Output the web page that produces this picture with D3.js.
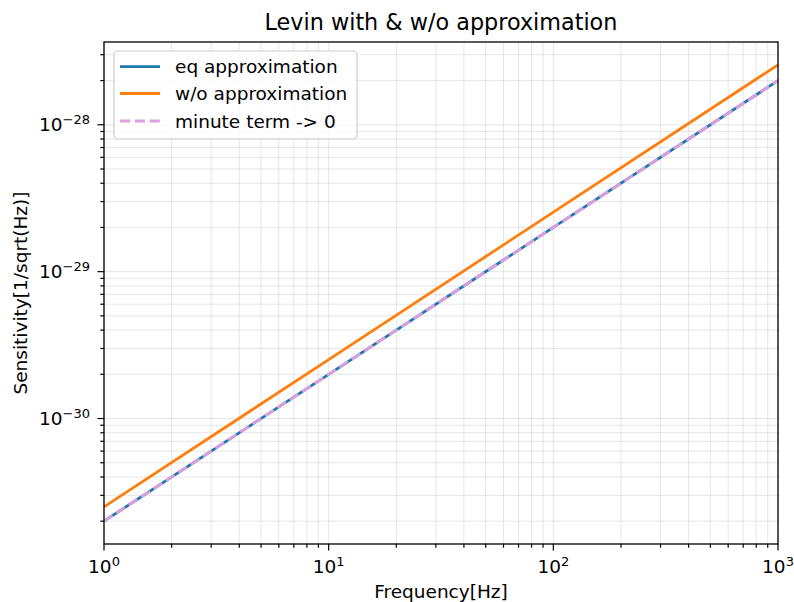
<!DOCTYPE html>
<html><head><meta charset="utf-8">
<script src="https://cdn.jsdelivr.net/npm/d3@7"></script>
<style>body{margin:0;background:#fff}svg{display:block}text{font-family:"DejaVu Sans",sans-serif}</style>
</head><body><div id="c"></div>
<script>
const freq = [1, 10, 100, 1000];
const eqApprox = [2.0e-31, 2.0e-30, 2.0e-29, 2.0e-28];
const woApprox = [2.5e-31, 2.52e-30, 2.54e-29, 2.56e-28];
const minuteTerm = [2.0e-31, 2.0e-30, 2.0e-29, 2.0e-28];
const xTicks = [1, 10, 100, 1000];
const xTickExp = ["0", "1", "2", "3"];
const yTicks = [1e-30, 1e-29, 1e-28];
const yTickExp = ["\u221230", "\u221229", "\u221228"];
const seriesNames = ["eq approximation", "w/o approximation", "minute term -> 0"];

const W = 794, H = 602;
const L = 104, R = 778, T = 42, B = 544;
const svg = d3.select("#c").append("svg").attr("width", W).attr("height", H);

const allY = eqApprox.concat(woApprox, minuteTerm);
const lmin = Math.log10(d3.min(allY)), lmax = Math.log10(d3.max(allY));
const pad = (lmax - lmin) * 0.05;
const x = d3.scaleLog().domain([1, 1000]).range([L, R]);
const y = d3.scaleLog().domain([Math.pow(10, lmin - pad), Math.pow(10, lmax + pad)]).range([B, T]);

const xAll = [], yAll = [];
for (let e = 0; e < 3; e++) for (let m = 1; m < 10; m++) xAll.push(m * Math.pow(10, e));
xAll.push(1000);
const [y0, y1] = y.domain();
for (let e = -32; e <= -27; e++) for (let m = 1; m < 10; m++) { const v = m * Math.pow(10, e); if (v >= y0 && v <= y1) yAll.push(v); }

const grid = svg.append("g").attr("stroke", "#b0b0b0").attr("stroke-opacity", 0.32).attr("stroke-width", 1);
xAll.forEach(v => grid.append("line").attr("x1", x(v)).attr("x2", x(v)).attr("y1", T).attr("y2", B));
yAll.forEach(v => grid.append("line").attr("x1", L).attr("x2", R).attr("y1", y(v)).attr("y2", y(v)));

const line = d3.line().x((d, i) => x(freq[i])).y(d => y(d));
const colors = ["#1f77b4", "#ff7f0e", "#dda0dd"];
const data = [eqApprox, woApprox, minuteTerm];
data.forEach((s, i) => {
  svg.append("path").datum(s).attr("d", line).attr("fill", "none")
    .attr("stroke", colors[i]).attr("stroke-width", 2.8)
    .attr("stroke-dasharray", i === 2 ? "10.3,4.5" : null);
});

svg.append("rect").attr("x", L).attr("y", T).attr("width", R - L).attr("height", B - T)
  .attr("fill", "none").attr("stroke", "#000").attr("stroke-width", 1.3);

const tk = svg.append("g").attr("stroke", "#000").attr("stroke-width", 1.2);
xAll.forEach(v => {
  const major = xTicks.includes(v);
  tk.append("line").attr("x1", x(v)).attr("x2", x(v)).attr("y1", B).attr("y2", B + (major ? 6.5 : 3.7));
});
yAll.forEach(v => {
  const major = yTicks.some(t => Math.abs(t - v) / t < 1e-6);
  tk.append("line").attr("x1", L).attr("x2", L - (major ? 6.5 : 3.7)).attr("y1", y(v)).attr("y2", y(v));
});

const fs = 18.5;
xTicks.forEach((v, i) => {
  const t = svg.append("text").attr("x", x(v)).attr("y", 573).attr("text-anchor", "middle").attr("font-size", fs);
  t.append("tspan").text("10");
  t.append("tspan").attr("dy", -7.5).attr("font-size", 13).text(xTickExp[i]);
});
yTicks.forEach((v, i) => {
  const t = svg.append("text").attr("x", 90).attr("y", y(v) + 6.5).attr("text-anchor", "end").attr("font-size", fs);
  t.append("tspan").text("10");
  t.append("tspan").attr("dy", -7.5).attr("font-size", 13).text(yTickExp[i]);
});

svg.append("text").attr("x", (L + R) / 2).attr("y", 598).attr("text-anchor", "middle").attr("font-size", fs).text("Frequency[Hz]");
svg.append("text").attr("transform", `translate(27,${(T + B) / 2}) rotate(-90)`).attr("text-anchor", "middle").attr("font-size", fs).text("Sensitivity[1/sqrt(Hz)]");
svg.append("text").attr("x", (L + R) / 2).attr("y", 30).attr("text-anchor", "middle").attr("font-size", 22.3).text("Levin with & w/o approximation");

const lg = svg.append("g");
lg.append("rect").attr("x", 114).attr("y", 51).attr("width", 243).attr("height", 88).attr("rx", 4)
  .attr("fill", "#fff").attr("fill-opacity", 0.8).attr("stroke", "#cccccc").attr("stroke-width", 1.2);
const rows = [66.7, 93.5, 121];
seriesNames.forEach((n, i) => {
  lg.append("line").attr("x1", 120).attr("x2", 160).attr("y1", rows[i]).attr("y2", rows[i])
    .attr("stroke", colors[i]).attr("stroke-width", 2.8).attr("stroke-dasharray", i === 2 ? "10.3,4.5" : null);
  lg.append("text").attr("x", 175).attr("y", rows[i] + 6.5).attr("font-size", fs).text(n);
});
</script></body></html>
